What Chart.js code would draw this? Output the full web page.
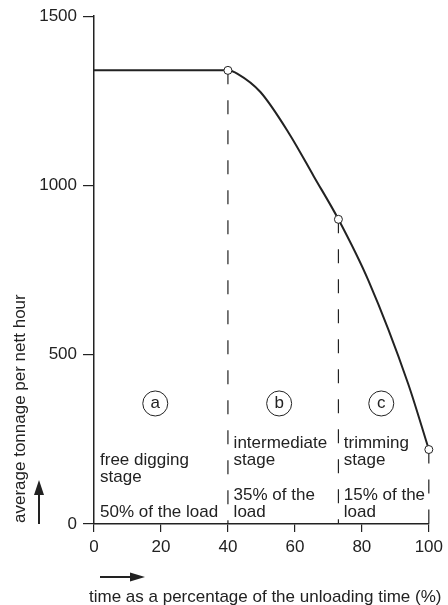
<!DOCTYPE html>
<html>
<head>
<meta charset="utf-8">
<script src="https://cdn.jsdelivr.net/npm/chart.js@4.4.1/dist/chart.umd.min.js"></script>
<style>
  html, body { margin: 0; padding: 0; background: #fff; }
  #wrap { width: 448px; height: 605px; position: relative; }
</style>
</head>
<body>
<div id="wrap"><canvas id="unloadChart"></canvas></div>
<script>
// unloading curve
var timePct = [0, 40, 43, 49.7, 58.3, 65.7, 73, 82, 93.8, 100];
var tonnage = [1340, 1340, 1329, 1276, 1153, 1026, 900, 718, 415, 220];

// stage boundaries (open circles + dashed verticals)
var stageX = [40, 73, 100];
var stageTonnage = [1340, 900, 220];

var stageLetters = ['a', 'b', 'c'];
var stageNames = [['free digging', 'stage'], ['intermediate', 'stage'], ['trimming', 'stage']];
var loadShares = [['50% of the load'], ['35% of the', 'load'], ['15% of the', 'load']];

var xTicks = [0, 20, 40, 60, 80, 100];
var yTicks = [0, 500, 1000, 1500];

var xTitle = 'time as a percentage of the unloading time (%)';
var yTitle = 'average tonnage per nett hour';

var ink = '#222';
var FONT = '"Liberation Sans", Arial, sans-serif';

var curve = timePct.map(function (t, i) { return { x: t, y: tonnage[i] }; });
var markers = stageX.map(function (t, i) { return { x: t, y: stageTonnage[i] }; });

var datasets = [{
    data: markers,
    showLine: false,
    pointRadius: 4,
    pointBackgroundColor: '#fff',
    pointBorderColor: ink,
    pointBorderWidth: 1,
    clip: false,
    order: 0
}, {
    data: curve,
    borderColor: ink,
    borderWidth: 2,
    pointRadius: 0,
    cubicInterpolationMode: 'monotone',
    clip: false,
    order: 1
}];
stageX.forEach(function (t, i) {
    datasets.push({
        data: [{ x: t, y: stageTonnage[i] }, { x: t, y: 0 }],
        borderColor: ink,
        borderWidth: 1.2,
        borderDash: [14, 16],
        pointRadius: 0,
        clip: false,
        order: 2
    });
});

// annotations: circled letters, stage texts, arrows and axis titles
var stageText = {
    id: 'stageText',
    afterDraw: function (chart) {
        var c = chart.ctx;
        var xs = chart.scales.x, ys = chart.scales.y;
        var area = chart.chartArea;
        c.save();
        c.fillStyle = ink;
        c.strokeStyle = ink;
        c.font = '17px ' + FONT;
        c.textBaseline = 'middle';

        // circled letters
        var letterX = [18.3, 55.3, 85.8];
        stageLetters.forEach(function (l, i) {
            var px = xs.getPixelForValue(letterX[i]);
            var py = ys.getPixelForValue(356);
            c.lineWidth = 1;
            c.beginPath();
            c.arc(px, py, 12.5, 0, Math.PI * 2);
            c.stroke();
            c.textAlign = 'center';
            c.fillText(l, px, py);
        });

        // stage names and load shares
        var textX = [1.8, 41.7, 74.6];
        var nameTop = [188, 238, 238];
        c.textAlign = 'left';
        stageNames.forEach(function (lines, i) {
            var px = xs.getPixelForValue(textX[i]);
            var py = ys.getPixelForValue(nameTop[i]);
            lines.forEach(function (s, k) { c.fillText(s, px, py + k * 17); });
            var share = loadShares[i];
            var sy = ys.getPixelForValue(35) - (share.length - 1) * 17;
            share.forEach(function (s, k) { c.fillText(s, px, sy + k * 17); });
        });

        // y arrow
        var ax = area.left - 55, ab = area.bottom, at = area.bottom - 44;
        c.lineWidth = 2;
        c.beginPath(); c.moveTo(ax, ab); c.lineTo(ax, at + 12); c.stroke();
        c.beginPath(); c.moveTo(ax, at); c.lineTo(ax - 5, at + 15); c.lineTo(ax + 5, at + 15); c.closePath(); c.fill();

        // x arrow
        var bx = area.left + 6, by = area.bottom + 53;
        c.beginPath(); c.moveTo(bx, by); c.lineTo(bx + 34, by); c.stroke();
        c.beginPath(); c.moveTo(bx + 45, by); c.lineTo(bx + 30, by - 4.5); c.lineTo(bx + 30, by + 4.5); c.closePath(); c.fill();

        // axis titles
        c.textAlign = 'left';
        c.textBaseline = 'middle';
        c.fillText(xTitle, area.left - 5, area.bottom + 73);
        c.translate(20, area.bottom - 1);
        c.rotate(-Math.PI / 2);
        c.fillText(yTitle, 0, 0);
        c.restore();
    }
};

var ctx = document.getElementById('unloadChart').getContext('2d');
var unloadChart = new Chart(ctx, {
    type: 'line',
    data: { datasets: datasets },
    plugins: [stageText],
    options: {
        responsive: true,
        maintainAspectRatio: false,
        animation: false,
        layout: { padding: { top: 14, right: 15, left: 0, bottom: 0 } },
        plugins: { legend: { display: false }, tooltip: { enabled: false } },
        scales: {
            x: {
                type: 'linear',
                min: 0,
                max: 100,
                afterFit: function (s) { s.height = 81; },
                afterBuildTicks: function (s) { s.ticks = xTicks.map(function (v) { return { value: v }; }); },
                ticks: { color: ink, font: { family: FONT, size: 17 }, padding: 5, maxRotation: 0,
                         callback: function (v) { return String(v); } },
                grid: { drawOnChartArea: false, tickLength: 8, color: ink, lineWidth: 1.2 },
                border: { color: ink, width: 1.5 }
            },
            y: {
                min: 0,
                max: 1500,
                afterFit: function (s) { s.width = 94; },
                afterBuildTicks: function (s) { s.ticks = yTicks.map(function (v) { return { value: v }; }); },
                ticks: { color: ink, font: { family: FONT, size: 17 }, padding: 6,
                         callback: function (v) { return String(v); } },
                grid: { drawOnChartArea: false, tickLength: 11, color: ink, lineWidth: 1.2 },
                border: { color: ink, width: 1.5 }
            }
        }
    }
});
</script>
</body>
</html>
